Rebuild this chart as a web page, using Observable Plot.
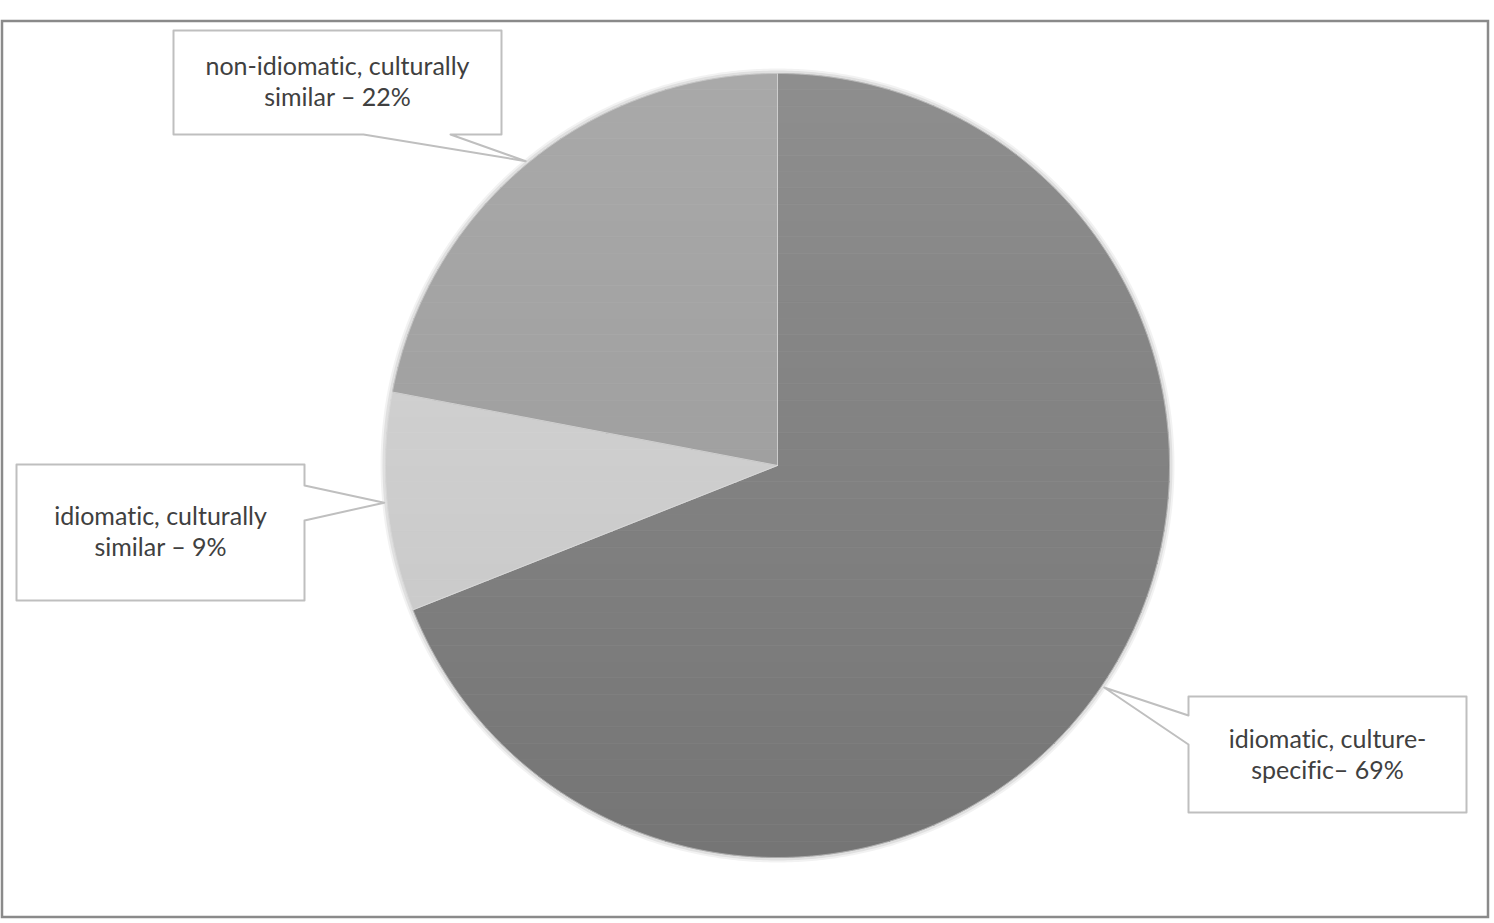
<!DOCTYPE html>
<html><head><meta charset="utf-8">
<script src="https://cdn.jsdelivr.net/npm/d3@7"></script>
<script src="https://cdn.jsdelivr.net/npm/@observablehq/plot@0.6"></script>
<style>body{margin:0;background:#fff;overflow:hidden} svg text{font-variant-ligatures:none}</style>
</head><body><div id="chart"></div>
<script>
// ---- data ----
const categories = ["idiomatic, culture-specific", "idiomatic, culturally similar", "non-idiomatic, culturally similar"];
const shares = [69, 9, 22];
const labelLines = [
  ["idiomatic, culture-", "specific– 69%"],
  ["idiomatic, culturally", "similar – 9%"],
  ["non-idiomatic, culturally", "similar – 22%"]
];
// top and bottom shade of each slice (vertical gradient)
const sliceTop = ["#8e8e8e", "#d5d5d5", "#a9a9a9"];
const sliceBottom = ["#757575", "#c6c6c6", "#979797"];

// ---- layout ----
const W = 1494, H = 923;
const cx = 777, cy = 465, R = 392;
// callout boxes: [x1, y1, x2, y2, side]
const boxes = [
  [1188, 696, 1466, 812, "left"],
  [16, 464, 304, 600, "right"],
  [173, 30, 501, 134, "bottom"]
];
const pointerBases = [[715, 744], [485, 520], [363, 450]];
const textCenters = [[1327, 725], [160, 502], [337, 52]];
const outerFrame = [{x1: 2, y1: 21, x2: 1488, y2: 917}];
const nBands = 48;

// ---- derived geometry ----
const total = d3.sum(shares);
let acc = 0;
const slices = shares.map((v, i) => {
  const a0 = acc / total * 2 * Math.PI;
  acc += v;
  const a1 = acc / total * 2 * Math.PI;
  return {cat: categories[i], a0, a1, mid: (a0 + a1) / 2};
});
const pt = (a, r) => [cx + r * Math.sin(a), cy - r * Math.cos(a)];

const slicePolys = slices.map(s => {
  const pts = [[cx, cy]];
  const n = Math.max(8, Math.ceil((s.a1 - s.a0) / 0.005));
  for (let k = 0; k <= n; k++) pts.push(pt(s.a0 + (s.a1 - s.a0) * k / n, R));
  return pts;
});

// clip polygon to half-plane y >= yv (above=false) or y <= yv (above=true)
function clipY(poly, yv, keepLess) {
  const out = [];
  const inside = p => keepLess ? p[1] <= yv : p[1] >= yv;
  for (let i = 0; i < poly.length; i++) {
    const a = poly[i], b = poly[(i + 1) % poly.length];
    const ia = inside(a), ib = inside(b);
    if (ia) out.push(a);
    if (ia !== ib) {
      const t = (yv - a[1]) / (b[1] - a[1]);
      out.push([a[0] + t * (b[0] - a[0]), yv]);
    }
  }
  return out;
}
const bandMarks = [];
slicePolys.forEach((poly, i) => {
  const interp = d3.interpolateRgb(sliceTop[i], sliceBottom[i]);
  for (let b = 0; b < nBands; b++) {
    const y0 = cy - R + 2 * R * b / nBands, y1 = cy - R + 2 * R * (b + 1) / nBands;
    let p = clipY(poly, y0, false);
    if (p.length) p = clipY(p, y1, true);
    if (p.length < 3) continue;
    const col = interp((b + 0.5) / nBands);
    const data = [...p, p[0]].map(([x, y]) => ({x, y}));
    bandMarks.push(Plot.line(data, {x: "x", y: "y", fill: col, stroke: col, strokeWidth: 0.8}));
  }
});
const sliceOutlines = slicePolys.flatMap((poly, i) => [...poly, poly[0]].map(([x, y]) => ({k: i, x, y})));

// soft halo around the pie
const halo = d3.range(0, 721).map(k => { const [x, y] = pt(k / 720 * 2 * Math.PI, R + 1); return {x, y}; });

const calloutPts = slices.flatMap((s, i) => {
  const [x1, y1, x2, y2, side] = boxes[i];
  const [b0, b1] = pointerBases[i];
  const tip = pt(s.mid, R + 3);
  let p;
  if (side === "left") p = [[x1, y1], [x2, y1], [x2, y2], [x1, y2], [x1, b1], tip, [x1, b0], [x1, y1]];
  else if (side === "right") p = [[x1, y1], [x2, y1], [x2, b0], tip, [x2, b1], [x2, y2], [x1, y2], [x1, y1]];
  else p = [[x1, y1], [x2, y1], [x2, y2], [b1, y2], tip, [b0, y2], [x1, y2], [x1, y1]];
  return p.map(([x, y]) => ({k: i, x, y}));
});

const labels = slices.map((s, i) => ({x: textCenters[i][0], y: textCenters[i][1], text: labelLines[i].join("\n")}));

const svg = Plot.plot({
  width: W, height: H, margin: 0,
  x: {domain: [0, W], range: [0, W], axis: null},
  y: {domain: [0, H], range: [0, H], axis: null},
  style: {background: "#fff", fontFamily: "Lato"},
  marks: [
    Plot.rect(outerFrame, {x1: "x1", x2: "x2", y1: "y1", y2: "y2", fill: "none", stroke: "#8a8a8a", strokeWidth: 2.5}),
    Plot.line(halo, {x: "x", y: "y", stroke: "#000", strokeOpacity: 0.05, strokeWidth: 8}),
    Plot.line(halo, {x: "x", y: "y", stroke: "#000", strokeOpacity: 0.07, strokeWidth: 4}),
    ...bandMarks,
    Plot.line(sliceOutlines, {x: "x", y: "y", z: "k", fill: "none", stroke: "#e0e0e0", strokeOpacity: 0.45, strokeWidth: 1}),
    Plot.line(calloutPts, {x: "x", y: "y", z: "k", fill: "#fff", stroke: "#bfbfbf", strokeWidth: 2}),
    Plot.text(labels, {x: "x", y: "y", text: "text", fontSize: 25, fill: "#404040", textAnchor: "middle", lineAnchor: "top", lineHeight: 1.24, fontFamily: "Lato"})
  ]
});

document.getElementById("chart").append(svg);
</script>
</body></html>
